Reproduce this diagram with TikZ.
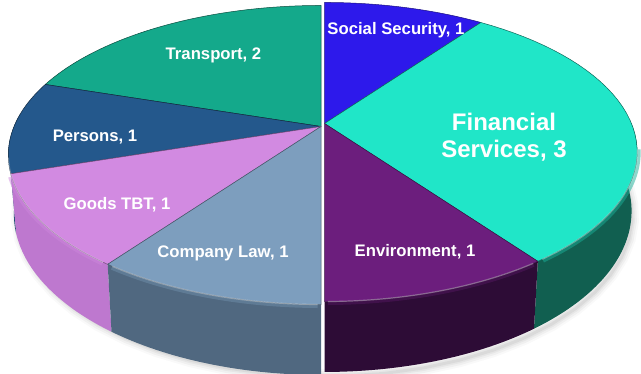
\documentclass[tikz,border=0pt]{standalone}
\usepackage{fontspec}
\setmainfont{Liberation Sans}
\begin{document}
\begin{tikzpicture}[x=1pt,y=-1pt,
  lbl/.style={text=white, font=\bfseries\fontsize{16.7}{18}\selectfont, inner sep=0pt},
  biglbl/.style={text=white, font=\bfseries\fontsize{24}{27}\selectfont, align=center, inner sep=0pt},
  topface/.style={line width=0.5pt, line join=round},
  rimlight/.style={white, opacity=0.35, line width=1.2pt},
]
\def\Xo{322}\def\Yo{125}\def\A{307}\def\B{144.1}\def\K{0.1906}\def\D{57}\def\S{0.982}
\def\rimtop#1#2{plot[domain=#1:#2, samples=40, variable=\t]
  ({\Xo + \A*sin(\t)/(1+\K*cos(\t))}, {\Yo - \B*cos(\t)/(1+\K*cos(\t))})}
\def\rimtopL#1#2{-- plot[domain=#1:#2, samples=40, variable=\t]
  ({\Xo + \A*sin(\t)/(1+\K*cos(\t))}, {\Yo - \B*cos(\t)/(1+\K*cos(\t))})}
\def\rimbot#1#2{plot[domain=#1:#2, samples=40, variable=\t]
  ({\Xo + \S*\A*sin(\t)/(1+\K*cos(\t))}, {\Yo + (\D - \B*cos(\t))/(1+\K*cos(\t))})}
\def\rimbotL#1#2{-- plot[domain=#1:#2, samples=40, variable=\t]
  ({\Xo + \S*\A*sin(\t)/(1+\K*cos(\t))}, {\Yo + (\D - \B*cos(\t))/(1+\K*cos(\t))})}
\definecolor{cTrans}{RGB}{20,169,139}
\definecolor{cSoc}{RGB}{45,25,235}
\definecolor{cFin}{RGB}{32,230,200}
\definecolor{cEnv}{RGB}{108,30,125}
\definecolor{cComp}{RGB}{125,158,190}
\definecolor{cGoods}{RGB}{210,138,225}
\definecolor{cPers}{RGB}{36,88,140}
\definecolor{sFin}{RGB}{17,95,80}
\definecolor{sEnv}{RGB}{45,12,54}
\definecolor{sComp}{RGB}{80,104,128}
\definecolor{sGoods}{RGB}{190,120,207}
\definecolor{sPers}{RGB}{30,75,115}
\useasboundingbox (0,0) rectangle (641,374);
% soft shadow
\foreach \w/\op in {14/0.025,10/0.035,6/0.045,3/0.05}{
  \draw[black, opacity=\op, line width=\w pt, xshift=3pt, yshift=-3pt] \rimbot{60}{300};
}
% right half
\begin{scope}[xshift=2.5pt, yshift=1.5pt]
  \fill[sFin] \rimtop{90}{144} \rimbotL{144}{90} -- cycle;
  \fill[sEnv] \rimtop{144}{180} \rimbotL{180}{144} -- cycle;
  \draw[cFin!60!sFin, opacity=0.5, line width=7pt] \rimtop{100}{143};
  \draw[cEnv!60!sEnv, opacity=0.5, line width=7pt] \rimtop{145}{179.5};
  \draw[topface, fill=cSoc, draw=cSoc!55!black] (\Xo,\Yo) \rimtopL{0}{36} -- cycle;
  \draw[topface, fill=cFin, draw=cFin!45!black] (\Xo,\Yo) \rimtopL{36}{144} -- cycle;
  \draw[topface, fill=cEnv, draw=cEnv!55!black] (\Xo,\Yo) \rimtopL{144}{180} -- cycle;
  \draw[rimlight] \rimtop{100}{143};
  \draw[rimlight] \rimtop{145}{179.5};
\end{scope}
% left half
\begin{scope}[xshift=-1pt, yshift=-1.5pt]
  \fill[sPers] \rimtop{252}{275} \rimbotL{275}{252} -- cycle;
  \fill[sGoods] \rimtop{216}{252} \rimbotL{252}{216} -- cycle;
  \fill[sComp] \rimtop{180}{216} \rimbotL{216}{180} -- cycle;
  \draw[cComp!70!sComp, opacity=0.5, line width=7pt] \rimtop{180.5}{215};
  \draw[cGoods!70!sGoods, opacity=0.5, line width=7pt] \rimtop{217}{251};
  \draw[topface, fill=cTrans, draw=cTrans!45!black] (\Xo,\Yo) \rimtopL{288}{360} -- cycle;
  \draw[topface, fill=cPers, draw=cPers!45!black] (\Xo,\Yo) \rimtopL{252}{288} -- cycle;
  \draw[topface, fill=cGoods, draw=cGoods!55!black] (\Xo,\Yo) \rimtopL{216}{252} -- cycle;
  \draw[topface, fill=cComp, draw=cComp!55!black] (\Xo,\Yo) \rimtopL{180}{216} -- cycle;
  \draw[rimlight] \rimtop{180.5}{215};
  \draw[rimlight] \rimtop{217}{258};
\end{scope}
% labels
\node[lbl] (soc) at (396,30) {Social Security, 1};
\node[biglbl] (fin) at (504,137) {Financial\\Services, 3};
\node[lbl] (env) at (415,252) {Environment, 1};
\node[lbl] (comp) at (223,253) {Company Law, 1};
\node[lbl] (goods) at (117,205) {Goods TBT, 1};
\node[lbl] (pers) at (95,137) {Persons, 1};
\node[lbl] (trans) at (213.5,55) {Transport, 2};
\end{tikzpicture}
\end{document}
